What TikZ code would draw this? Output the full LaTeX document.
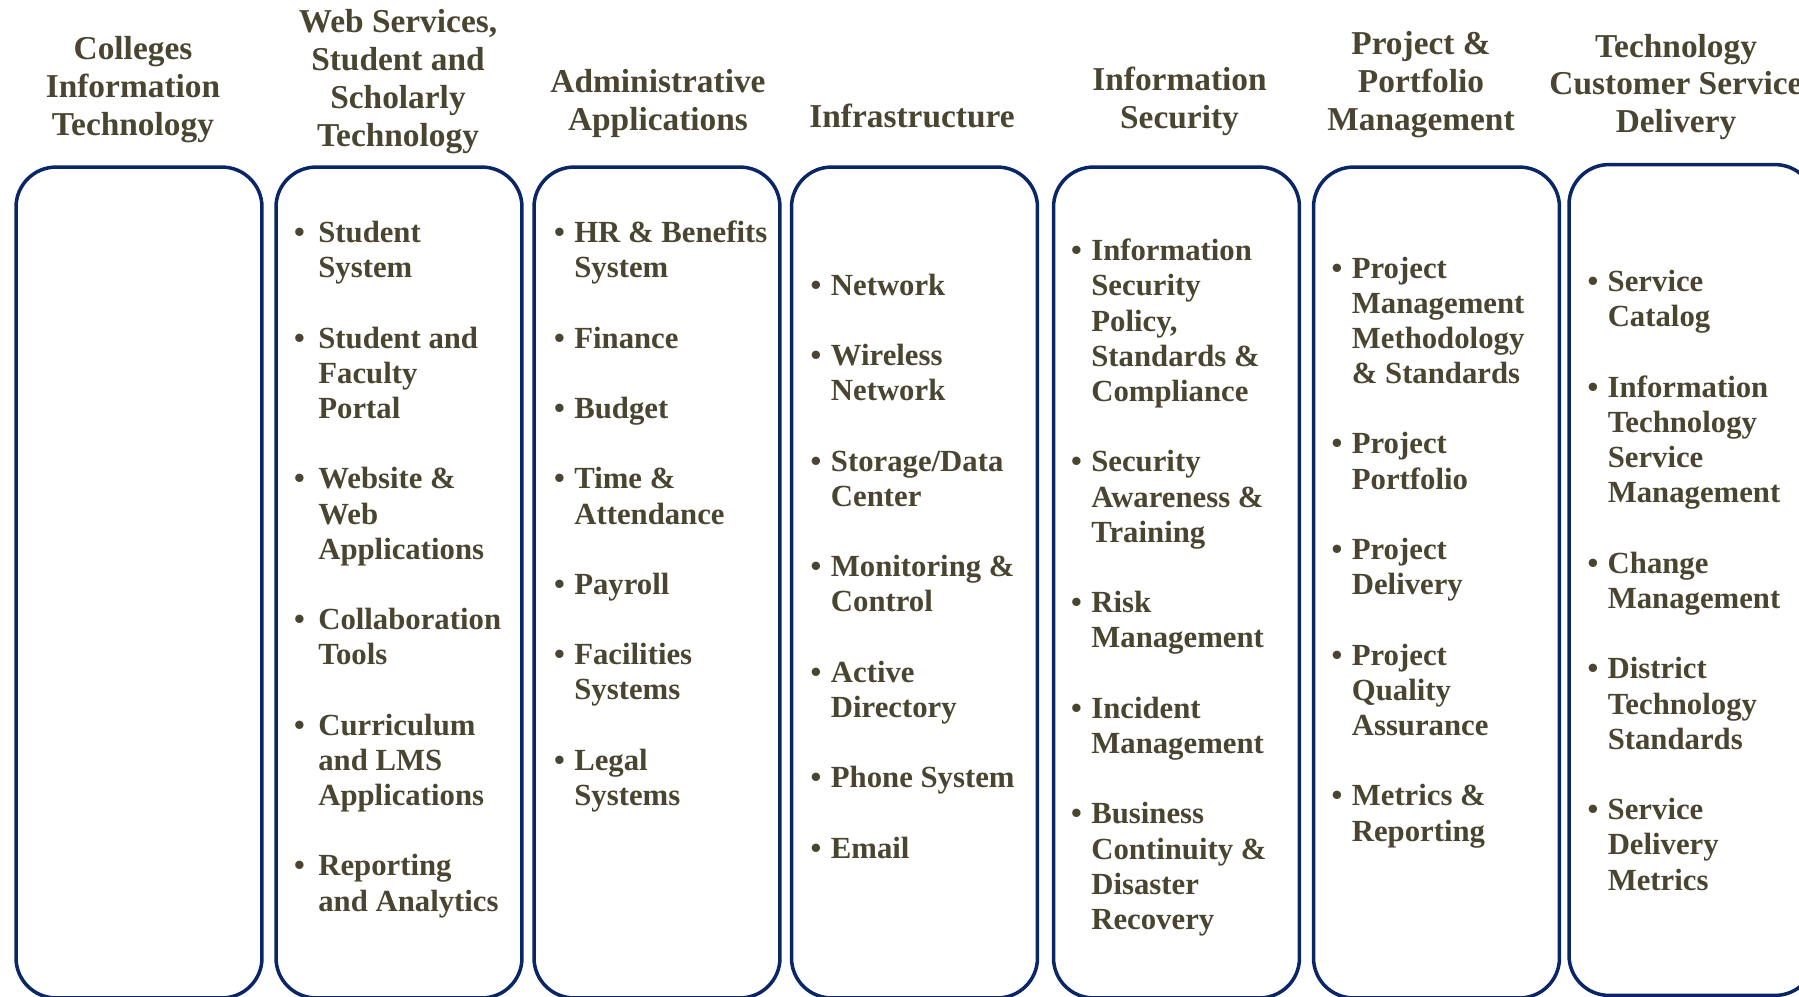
\documentclass[tikz,border=0pt]{standalone}
\usepackage{fontspec}
\setmainfont{Liberation Serif}
\usetikzlibrary{positioning}
\definecolor{unitnavy}{HTML}{0A2667}
\definecolor{unitolive}{HTML}{4A4530}
\newlength{\bulgap}
\setlength{\bulgap}{0.19cm}
\newcommand{\bul}{\llap{\textbullet\hspace{\bulgap}}}

\begin{document}
\begin{tikzpicture}[
  x=0.02cm, y=-0.02cm,
  unitbox/.style={rectangle, rounded corners=0.8cm, draw=unitnavy, line width=2pt, minimum width=4.92cm, minimum height=16.62cm, inner sep=0pt},
  unithead/.style={align=center, text=unitolive, inner sep=0pt, font=\fontsize{19}{21.6}\selectfont\bfseries},
  unitlist/.style={anchor=base west, text=unitolive, inner sep=0pt, font=\fontsize{17.5}{20.03}\selectfont\bfseries}
]
  \useasboundingbox (0,0) rectangle (1799,997);
  \clip (0,0) rectangle (1799,997);

  % unit boxes
  \node[unitbox] (citbox) at (139,582.5) {};
  \node[unitbox] (websvcbox) at (399,582.5) {};
  \node[unitbox] (adminbox) at (657,582.5) {};
  \node[unitbox] (infrabox) at (914.5,582.5) {};
  \node[unitbox] (infosecbox) at (1176.5,582.5) {};
  \node[unitbox] (ppmbox) at (1436.5,582.5) {};
  \node[unitbox] (tcsdbox) at (1692,580) {};

  % unit titles
  \node[unithead] (cithead) at (133,89.5) {Colleges\\Information\\Technology};
  \node[unithead] (websvchead) at (398,82) {Web Services,\\Student and\\Scholarly\\Technology};
  \node[unithead] (adminhead) at (658,103.5) {Administrative\\Applications};
  \node[unithead] (infrahead) at (912,116) {Infrastructure};
  \node[unithead] (infosechead) at (1179.5,101) {Information\\Security};
  \node[unithead] (ppmhead) at (1421,84.5) {Project \&\\Portfolio\\Management};
  \node[unithead] (tcsdhead) at (1676,87) {Technology\\Customer Service\\Delivery};

  % services of each unit
  \node[unitlist] (websvclist) at (318,242.5) {\setlength{\bulgap}{0.27cm}\begin{tabular}[t]{@{}l@{}}
    \bul Student\\ System\\ \\
    \bul Student and\\ Faculty\\ Portal\\ \\
    \bul Website \&\\ Web\\ Applications\\ \\
    \bul Collaboration\\ Tools\\ \\
    \bul Curriculum\\ and LMS\\ Applications\\ \\
    \bul Reporting\\ and Analytics
  \end{tabular}};

  \node[unitlist] (adminlist) at (574,242.5) {\begin{tabular}[t]{@{}l@{}}
    \bul HR \& Benefits\\ System\\ \\
    \bul Finance\\ \\
    \bul Budget\\ \\
    \bul Time \&\\ Attendance\\ \\
    \bul Payroll\\ \\
    \bul Facilities\\ Systems\\ \\
    \bul Legal\\ Systems
  \end{tabular}};

  \node[unitlist] (infralist) at (830.6,295.2) {\begin{tabular}[t]{@{}l@{}}
    \bul Network\\ \\
    \bul Wireless\\ Network\\ \\
    \bul Storage/Data\\ Center\\ \\
    \bul Monitoring \&\\ Control\\ \\
    \bul Active\\ Directory\\ \\
    \bul Phone System\\ \\
    \bul Email
  \end{tabular}};

  \node[unitlist] (infoseclist) at (1091,260.8) {\begin{tabular}[t]{@{}l@{}}
    \bul Information\\ Security\\ Policy,\\ Standards \&\\ Compliance\\ \\
    \bul Security\\ Awareness \&\\ Training\\ \\
    \bul Risk\\ Management\\ \\
    \bul Incident\\ Management\\ \\
    \bul Business\\ Continuity \&\\ Disaster\\ Recovery
  \end{tabular}};

  \node[unitlist] (ppmlist) at (1351.5,278) {\begin{tabular}[t]{@{}l@{}}
    \bul Project\\ Management\\ Methodology\\ \& Standards\\ \\
    \bul Project\\ Portfolio\\ \\
    \bul Project\\ Delivery\\ \\
    \bul Project\\ Quality\\ Assurance\\ \\
    \bul Metrics \&\\ Reporting
  \end{tabular}};

  \node[unitlist] (tcsdlist) at (1607.4,291.8) {\begin{tabular}[t]{@{}l@{}}
    \bul Service\\ Catalog\\ \\
    \bul Information\\ Technology\\ Service\\ Management\\ \\
    \bul Change\\ Management\\ \\
    \bul District\\ Technology\\ Standards\\ \\
    \bul Service\\ Delivery\\ Metrics
  \end{tabular}};
\end{tikzpicture}
\end{document}
